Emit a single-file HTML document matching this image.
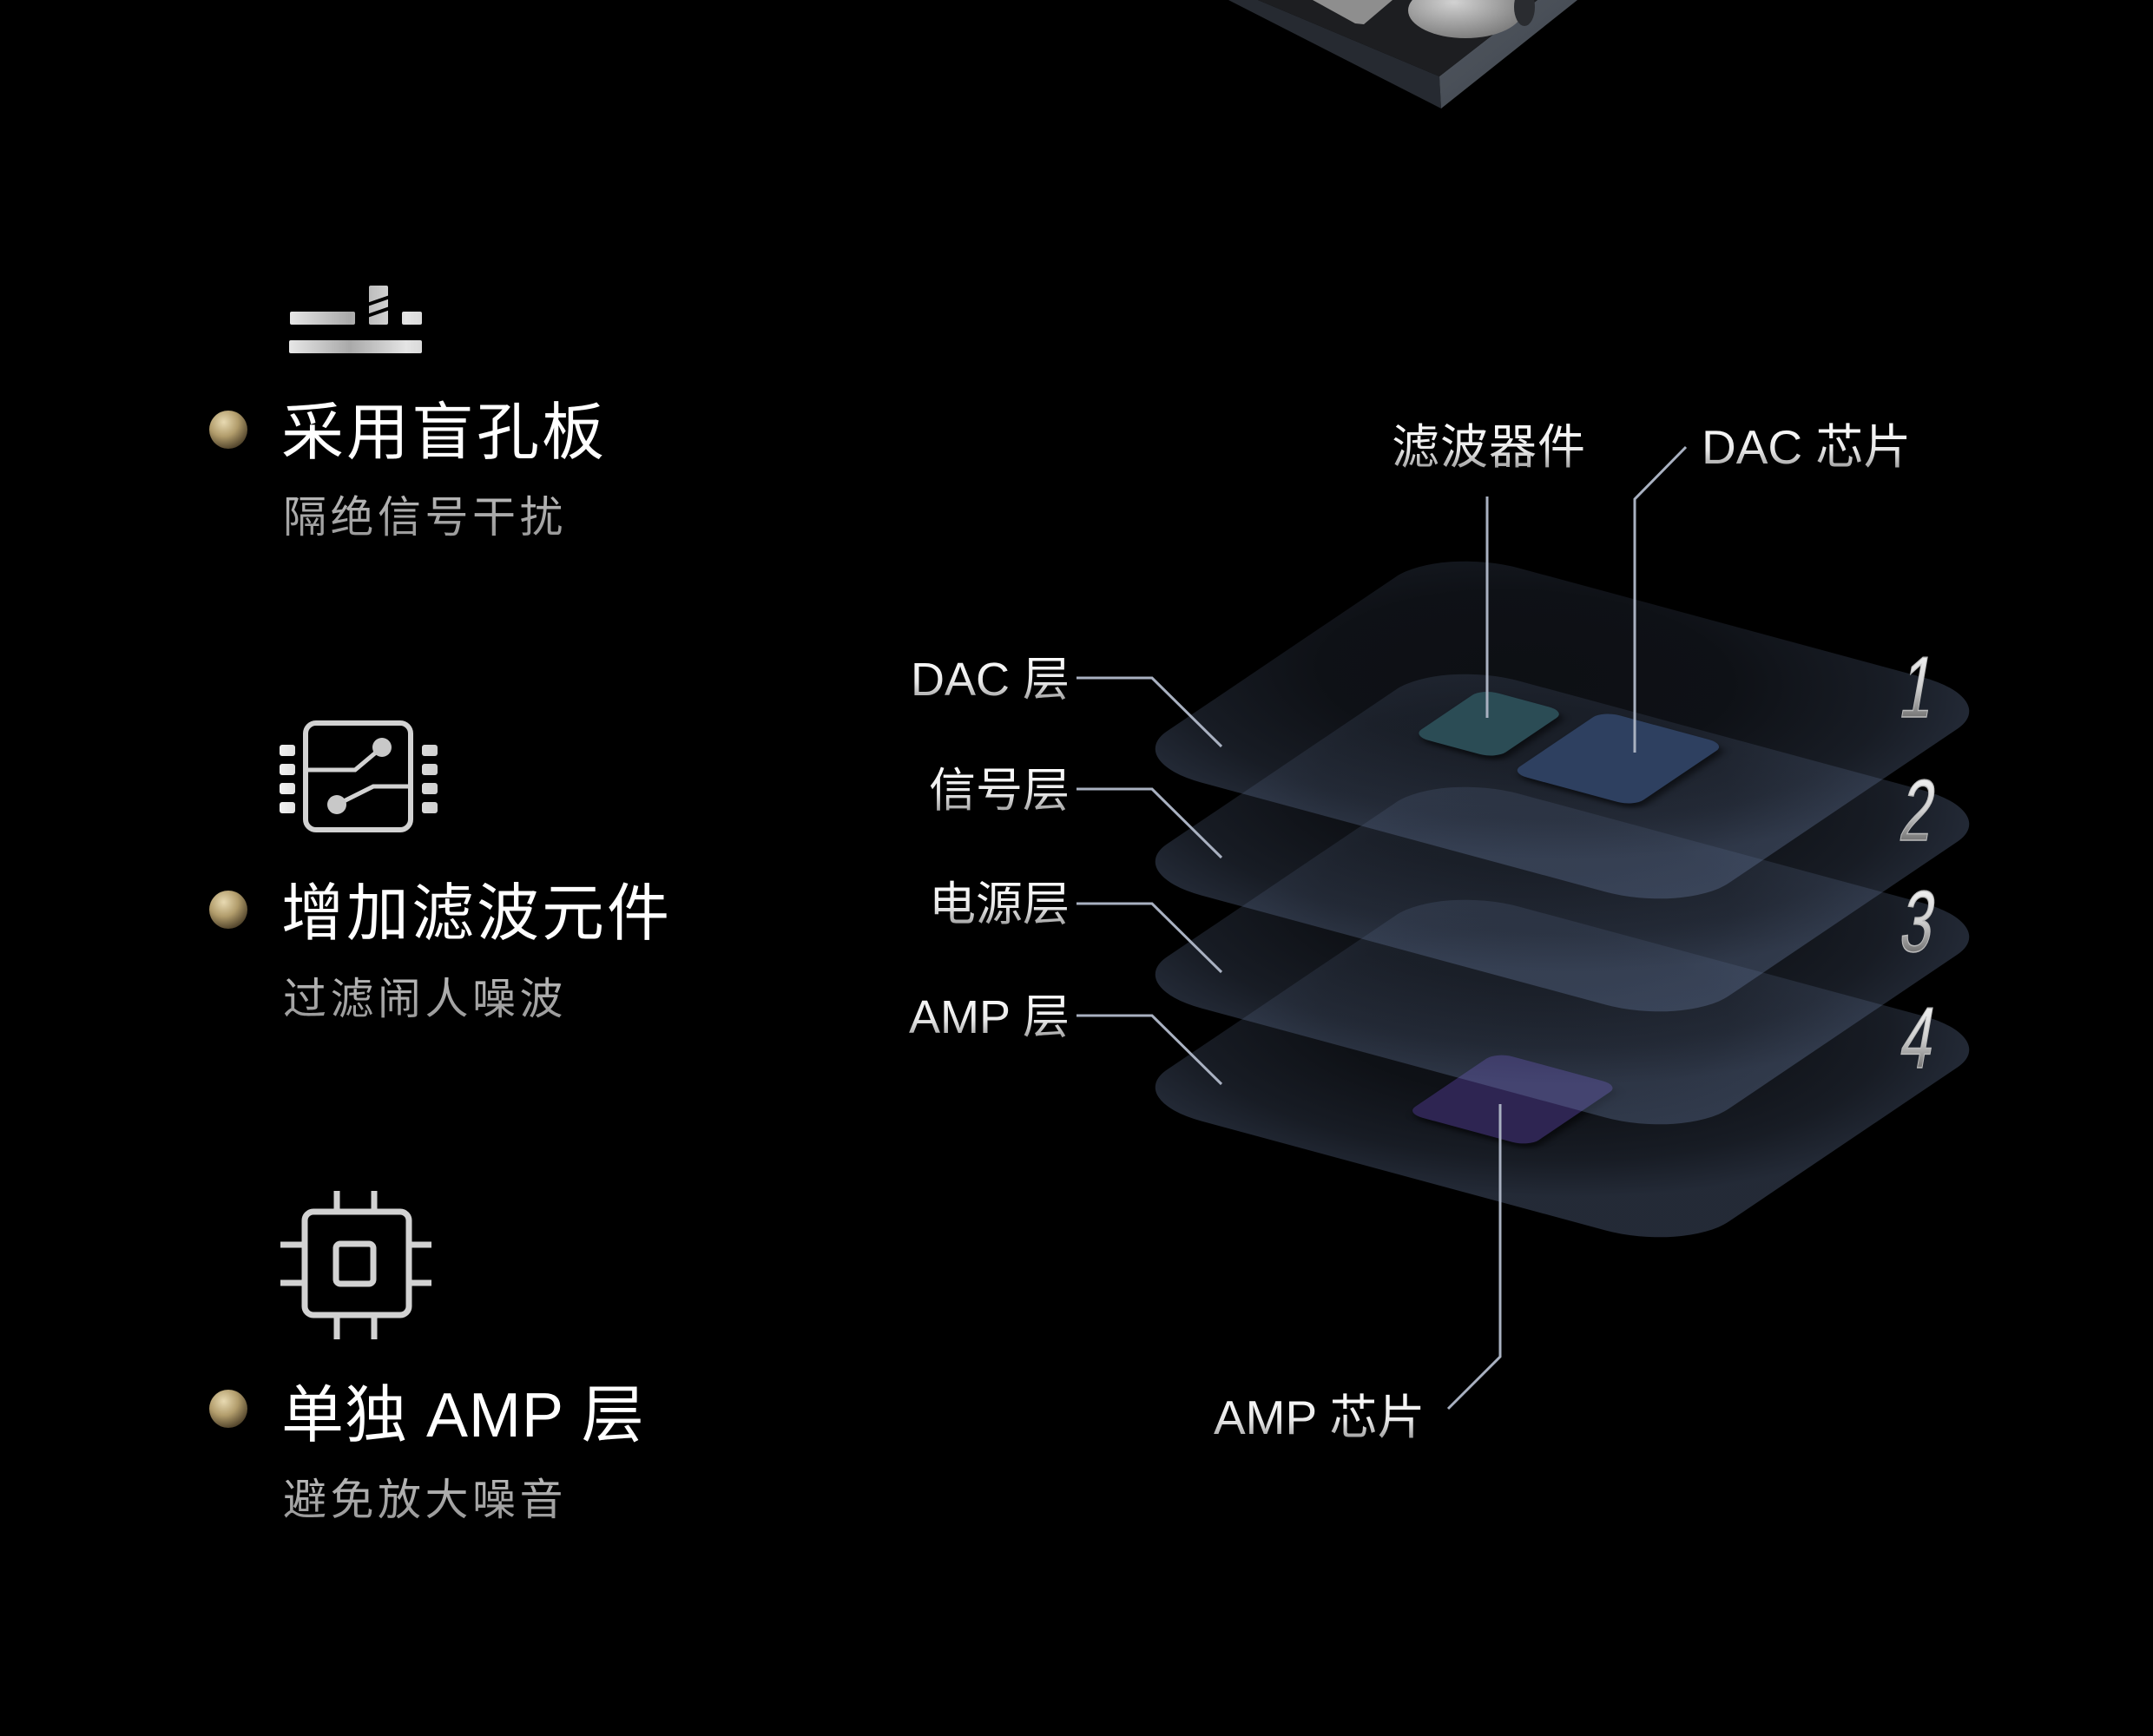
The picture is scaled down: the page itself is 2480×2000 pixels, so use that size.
<!DOCTYPE html>
<html><head><meta charset="utf-8"><style>
html,body{margin:0;padding:0;background:#000;}
svg{display:block;}
text{font-family:"Liberation Sans","Noto Sans CJK SC",sans-serif;}
</style></head><body>
<svg width="2480" height="2000" viewBox="0 0 2480 2000" xmlns="http://www.w3.org/2000/svg">
<defs>
<radialGradient id="lay" gradientUnits="userSpaceOnUse" cx="35" cy="65" r="70">
<stop offset="0" stop-color="#768cb6" stop-opacity="0.11"/>
<stop offset="0.45" stop-color="#768cb6" stop-opacity="0.12"/>
<stop offset="0.8" stop-color="#768cb6" stop-opacity="0.2"/>
<stop offset="1" stop-color="#768cb6" stop-opacity="0.3"/>
</radialGradient>
<linearGradient id="txt" x1="0" y1="0" x2="0" y2="1">
<stop offset="0" stop-color="#ffffff"/><stop offset="0.55" stop-color="#e8e8e8"/><stop offset="1" stop-color="#8a8a8a"/>
</linearGradient>
<linearGradient id="sub" x1="0" y1="0" x2="0" y2="1">
<stop offset="0" stop-color="#b8b8b8"/><stop offset="1" stop-color="#979797"/>
</linearGradient>
<linearGradient id="num" x1="0" y1="0" x2="0" y2="1">
<stop offset="0" stop-color="#ffffff"/><stop offset="0.5" stop-color="#d0d0d0"/><stop offset="1" stop-color="#3a3a3a"/>
</linearGradient>
<radialGradient id="gold" cx="0.38" cy="0.3" r="0.75">
<stop offset="0" stop-color="#e8dab2"/><stop offset="0.5" stop-color="#b29d6c"/><stop offset="1" stop-color="#4a3d26"/>
</radialGradient>
<linearGradient id="m1" gradientUnits="userSpaceOnUse" x1="320" y1="0" x2="505" y2="0">
<stop offset="0" stop-color="#f2f2f2"/><stop offset="0.45" stop-color="#a9a9a9"/><stop offset="0.8" stop-color="#e4e4e4"/><stop offset="1" stop-color="#cfcfcf"/>
</linearGradient>
<linearGradient id="rface" x1="0" y1="0" x2="1" y2="1">
<stop offset="0" stop-color="#525861"/><stop offset="1" stop-color="#3e444c"/>
</linearGradient>
<radialGradient id="silver" cx="0.4" cy="0.35" r="0.7">
<stop offset="0" stop-color="#d2d2d2"/><stop offset="1" stop-color="#7a7a7a"/>
</radialGradient>
<filter id="blur" x="-20%" y="-20%" width="140%" height="140%"><feGaussianBlur stdDeviation="0.7"/></filter>
</defs>
<rect width="2480" height="2000" fill="#000"/>

<!-- top board -->
<polygon points="1415,0 1449,0 1658,88 1660,125" fill="#262a31"/>
<polygon points="1771,0 1817,0 1660,125 1658,88" fill="url(#rface)"/>
<polygon points="1449,0 1771,0 1658,88" fill="#1d1e21"/>
<polygon points="1512,0 1604,0 1571,28 1561,27" fill="#8e8e8e"/>
<ellipse cx="1688" cy="12" rx="66" ry="32" fill="url(#silver)"/>
<ellipse cx="1756" cy="8" rx="12" ry="22" fill="#2a2c30"/>

<!-- icon 1 -->
<g fill="url(#m1)">
<rect x="334" y="359" width="75" height="15" rx="2"/>
<rect x="425" y="329" width="22" height="45" rx="2"/>
<rect x="463" y="359" width="23" height="15" rx="2"/>
<rect x="333" y="392" width="153" height="15" rx="2"/>
</g>
<path d="M423 351 L449 342 M423 364 L449 355" stroke="#000" stroke-width="4"/>

<!-- icon 2 -->
<g stroke="#d2d2d2" fill="none">
<rect x="352" y="833" width="121" height="123" rx="12" stroke-width="6"/>
<path d="M353 887 H409 L440 861 M472 906 H430 L388 927" stroke-width="5"/>
</g>
<g fill="url(#m1)">
<rect x="322" y="858" width="18" height="13" rx="3"/>
<rect x="322" y="880" width="18" height="13" rx="3"/>
<rect x="322" y="902" width="18" height="13" rx="3"/>
<rect x="322" y="924" width="18" height="13" rx="3"/>
<rect x="486" y="858" width="18" height="13" rx="3"/>
<rect x="486" y="880" width="18" height="13" rx="3"/>
<rect x="486" y="902" width="18" height="13" rx="3"/>
<rect x="486" y="924" width="18" height="13" rx="3"/>
</g>
<circle cx="440" cy="861" r="11" fill="#c8c8c8"/>
<circle cx="388" cy="927" r="11" fill="#c8c8c8"/>

<!-- icon 3 -->
<g stroke="#d2d2d2" fill="none" stroke-width="7">
<rect x="351" y="1396" width="120" height="119" rx="10"/>
<rect x="387" y="1433" width="43" height="46" rx="5"/>
<path d="M388 1372 V1393 M431 1372 V1393 M388 1518 V1543 M431 1518 V1543 M323 1434 H348 M323 1478 H348 M474 1434 H497 M474 1478 H497"/>
</g>

<!-- bullets + texts -->
<circle cx="263" cy="495" r="22" fill="url(#gold)"/>
<circle cx="263" cy="1048" r="22" fill="url(#gold)"/>
<circle cx="263" cy="1623" r="22" fill="url(#gold)"/>
<text x="324" y="523" font-size="72" letter-spacing="3" fill="#fff">采用盲孔板</text>
<text x="326" y="613" font-size="50" letter-spacing="4.5" fill="url(#sub)">隔绝信号干扰</text>
<text x="324" y="1077" font-size="72" letter-spacing="3" fill="#fff">增加滤波元件</text>
<text x="326" y="1168" font-size="50" letter-spacing="4.5" fill="url(#sub)">过滤闹人噪波</text>
<text x="324" y="1655" font-size="72" letter-spacing="1" fill="#fff">单独 AMP 层</text>
<text x="326" y="1745" font-size="50" letter-spacing="4.5" fill="url(#sub)">避免放大噪音</text>

<!-- layers -->
<g transform="matrix(6.47,1.75,3.66,-2.47,1293,1267)">
<rect x="0" y="0" width="100" height="100" rx="14" fill="url(#lay)"/>
<rect x="39.7" y="19.8" width="22" height="28.5" rx="3" fill="#000" opacity="0.55" filter="url(#blur)"/>
<rect x="38.5" y="21" width="22" height="28.5" rx="3" fill="#2e2552"/>
</g>
<g transform="matrix(6.47,1.75,3.66,-2.47,1293,1137)">
<rect x="0" y="0" width="100" height="100" rx="14" fill="url(#lay)"/>
</g>
<g transform="matrix(6.47,1.75,3.66,-2.47,1293,1007)">
<rect x="0" y="0" width="100" height="100" rx="14" fill="url(#lay)"/>
</g>
<g transform="matrix(6.47,1.75,3.66,-2.47,1293,877)">
<rect x="0" y="0" width="100" height="100" rx="14" fill="url(#lay)"/>
<rect x="33.2" y="33.3" width="15" height="22" rx="3" fill="#000" opacity="0.55" filter="url(#blur)"/>
<rect x="52.7" y="29.8" width="22" height="29" rx="3" fill="#000" opacity="0.55" filter="url(#blur)"/>
<rect x="32" y="34.5" width="15" height="22" rx="3" fill="#2b4c55"/>
<rect x="51.5" y="31" width="22" height="29" rx="3" fill="#2e4060"/>
</g>

<!-- connectors -->
<g stroke="#a9b1c1" stroke-width="3" fill="none">
<path d="M1713 572 V827"/>
<path d="M1942 515 L1883 575 V867"/>
<path d="M1728 1272 V1563 L1668 1623"/>
<path d="M1240 781 H1327 L1407 860"/>
<path d="M1240 909 H1327 L1407 988"/>
<path d="M1240 1041 H1327 L1407 1120"/>
<path d="M1240 1170 H1327 L1407 1249"/>
</g>

<!-- diagram labels -->
<g font-size="54" fill="url(#txt)" text-anchor="end">
<text x="1232" y="801">DAC 层</text>
<text x="1232" y="929">信号层</text>
<text x="1232" y="1060">电源层</text>
<text x="1232" y="1190">AMP 层</text>
</g>
<g font-size="55" fill="url(#txt)">
<text x="1603" y="534" letter-spacing="1">滤波器件</text>
<text x="1960" y="534">DAC 芯片</text>
<text x="1398" y="1652">AMP 芯片</text>
</g>

<!-- numbers -->
<g font-size="100" fill="url(#num)" text-anchor="middle" stroke="#bbbbbb" stroke-width="1.5">
<text transform="translate(2204,826) skewX(-10) scale(0.66,1)">1</text>
<text transform="translate(2204,968) skewX(-10) scale(0.66,1)">2</text>
<text transform="translate(2204,1096) skewX(-10) scale(0.66,1)">3</text>
<text transform="translate(2204,1230) skewX(-10) scale(0.66,1)">4</text>
</g>
</svg>
</body></html>
